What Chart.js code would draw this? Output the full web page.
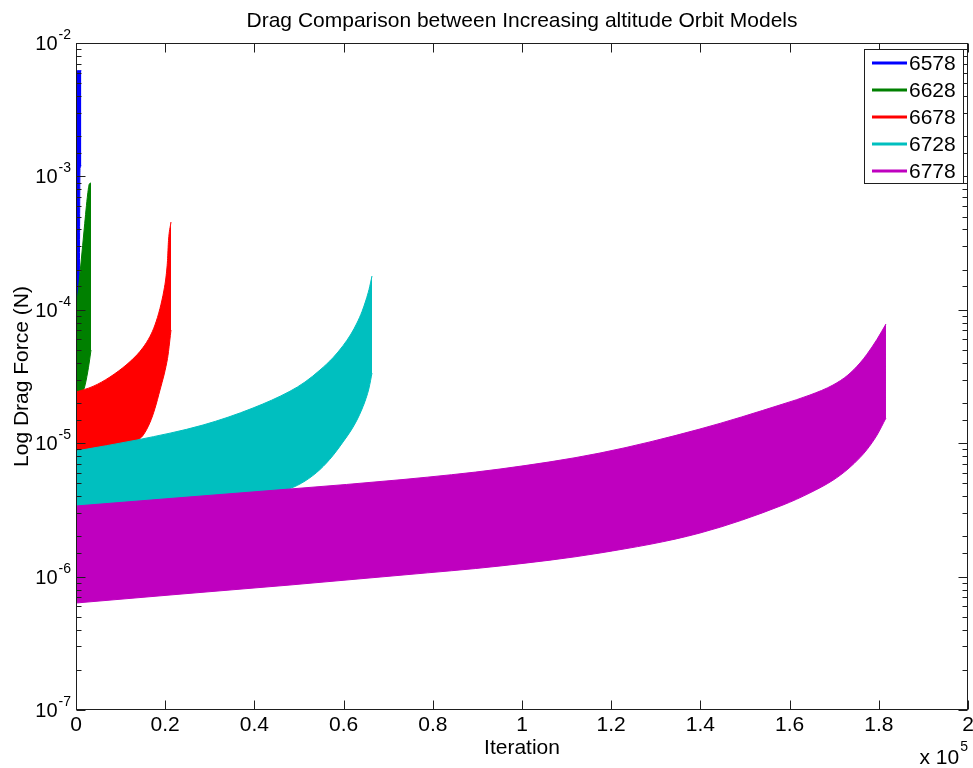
<!DOCTYPE html>
<html>
<head>
<meta charset="utf-8">
<title>Drag Comparison between Increasing altitude Orbit Models</title>
<script src="https://cdn.jsdelivr.net/npm/chart.js@4.4.1/dist/chart.umd.min.js"></script>
<style>
  html, body { margin: 0; padding: 0; background: #ffffff; }
  canvas { display: block; }
</style>
</head>
<body>
<canvas id="drag" width="973" height="768"></canvas>
<script>
// Orbit radius of each run (km) and its line colour
const orbitLabels = ['6578', '6628', '6678', '6728', '6778'];
const orbitColors = ['#0000FF', '#008000', '#FF0000', '#00BFBF', '#BF00BF'];

// Drag force oscillates once per orbit; each run is kept as its upper and
// lower envelope (N) against iteration number.
const iter6578  = [0, 300, 700, 900, 1200];
const upper6578 = [6.0e-3, 6.2e-3, 6.2e-3, 6.2e-3, 6.2e-3];
const lower6578 = [9.5e-5, 9.7e-5, 1.0e-4, 1.15e-3, 1.2e-3];

const iter6628  = [0, 1121, 1861, 2623, 2982, 3363];
const upper6628 = [9.46e-5, 2.243e-4, 4.104e-4, 7.38e-4, 8.77e-4, 8.92e-4];
const lower6628 = [2.298e-5, 2.378e-5, 2.593e-5, 3.417e-5, 4.061e-5, 4.995e-5];

const iter6678  = [0, 3812, 7623, 11435, 13677, 15022, 16592, 17713, 18834, 19731, 20179, 20516, 20740, 21300];
const upper6678 = [2.419e-5, 2.666e-5, 3.135e-5, 3.903e-5, 4.598e-5, 5.207e-5, 6.318e-5, 7.704e-5, 1.024e-4, 1.407e-4, 1.761e-4, 2.342e-4, 3.308e-4, 4.551e-4];
const lower6678 = [8.44e-6, 8.66e-6, 8.89e-6, 9.53e-6, 1.047e-5, 1.144e-5, 1.431e-5, 1.827e-5, 2.505e-5, 3.245e-5, 3.771e-5, 4.314e-5, 4.869e-5, 7.056e-5];

const iter6728  = [0, 13680, 28480, 39690, 47980, 51350, 54710, 57620, 59870, 61660, 63000, 64130, 65020, 65700, 66370];
const upper6728 = [8.74e-6, 1.057e-5, 1.369e-5, 1.836e-5, 2.453e-5, 2.876e-5, 3.537e-5, 4.374e-5, 5.381e-5, 6.585e-5, 7.962e-5, 9.712e-5, 1.184e-4, 1.42e-4, 1.792e-4];
const lower6728 = [3.157e-6, 3.412e-6, 3.752e-6, 4.111e-6, 4.575e-6, 5.206e-6, 6.349e-6, 8.085e-6, 1.021e-5, 1.245e-5, 1.492e-5, 1.805e-5, 2.163e-5, 2.593e-5, 3.358e-5];

const iter6778  = [0, 21080, 47980, 73320, 95070, 117490, 139910, 158520, 164570, 169730, 173090, 175780, 177350, 179600, 181610];
const upper6778 = [3.382e-6, 3.851e-6, 4.536e-6, 5.342e-6, 6.404e-6, 8.44e-6, 1.278e-5, 1.967e-5, 2.298e-5, 2.73e-5, 3.245e-5, 3.992e-5, 4.648e-5, 6.01e-5, 7.826e-5];
const lower6778 = [6.34e-7, 7.28e-7, 8.65e-7, 1.028e-6, 1.201e-6, 1.503e-6, 2.122e-6, 3.441e-6, 4.243e-6, 5.278e-6, 6.404e-6, 7.799e-6, 8.96e-6, 1.151e-5, 1.545e-5];

// Axis tick labels (x in units of 10^5 iterations)
const xTickLabels = ['0', '0.2', '0.4', '0.6', '0.8', '1', '1.2', '1.4', '1.6', '1.8', '2'];
const xTickStep = 20000;

const runs = [
  { iter: iter6578, upper: upper6578, lower: lower6578 },
  { iter: iter6628, upper: upper6628, lower: lower6628 },
  { iter: iter6678, upper: upper6678, lower: lower6678 },
  { iter: iter6728, upper: upper6728, lower: lower6728 },
  { iter: iter6778, upper: upper6778, lower: lower6778 }
];

const FONT = '"Liberation Sans", Arial, Helvetica, sans-serif';

// Each run becomes an upper line filled down to its lower line; later runs
// are painted over earlier ones.
const datasets = [];
runs.forEach((r, i) => {
  const color = orbitColors[i];
  const z = (runs.length - 1 - i) * 2;
  const common = {
    borderColor: color,
    backgroundColor: color,
    borderWidth: 1,
    pointRadius: 0,
    pointHoverRadius: 0,
    cubicInterpolationMode: 'monotone'
  };
  datasets.push(Object.assign({}, common, {
    label: orbitLabels[i],
    data: r.iter.map((x, k) => ({ x: x, y: r.upper[k] })),
    fill: '+1',
    order: z
  }));
  datasets.push(Object.assign({}, common, {
    label: orbitLabels[i] + ' lower',
    data: r.iter.map((x, k) => ({ x: x, y: r.lower[k] })),
    fill: false,
    order: z + 1
  }));
});

// Box, inward ticks, labels, title and legend drawn in MATLAB style
const axesFrame = {
  id: 'axesFrame',
  afterDraw(chart) {
    const { ctx, chartArea: a } = chart;
    const xs = chart.scales.x, ys = chart.scales.y;
    const L = Math.round(a.left) + 0.5, R = Math.round(a.right) - 0.5;
    const T = Math.round(a.top) + 0.5, B = Math.round(a.bottom) - 0.5;
    ctx.save();
    ctx.strokeStyle = '#1e1e1e';
    ctx.lineWidth = 1;
    ctx.strokeRect(L, T, R - L, B - T);

    ctx.beginPath();
    xs.ticks.forEach(t => {
      const px = Math.round(xs.getPixelForValue(t.value)) + 0.5;
      ctx.moveTo(px, B); ctx.lineTo(px, B - 9);
      ctx.moveTo(px, T); ctx.lineTo(px, T + 9);
    });
    ys.ticks.forEach(t => {
      const py = Math.round(ys.getPixelForValue(t.value)) + 0.5;
      const len = t.label ? 9 : 5;
      ctx.moveTo(L, py); ctx.lineTo(L + len, py);
      ctx.moveTo(R, py); ctx.lineTo(R - len, py);
    });
    ctx.stroke();

    ctx.fillStyle = '#000000';
    // x tick labels
    ctx.font = '21px ' + FONT;
    ctx.textAlign = 'center';
    ctx.textBaseline = 'alphabetic';
    xs.ticks.forEach(t => {
      ctx.fillText(t.label, xs.getPixelForValue(t.value), 731);
    });

    // y tick labels as 10 with a raised exponent
    ys.ticks.forEach(t => {
      if (!t.label) return;
      const py = ys.getPixelForValue(t.value);
      ctx.font = '14px ' + FONT;
      const ew = ctx.measureText(t.label).width;
      const ex = 71 - ew;
      ctx.textAlign = 'left';
      ctx.fillText(t.label, ex, py - 4);
      ctx.font = '20px ' + FONT;
      ctx.textAlign = 'right';
      ctx.fillText('10', ex - 1, py + 7);
    });

    // axis titles
    ctx.font = '21px ' + FONT;
    ctx.textAlign = 'center';
    ctx.fillText('Iteration', (a.left + a.right) / 2, 754);
    ctx.save();
    ctx.translate(28, (a.top + a.bottom) / 2);
    ctx.rotate(-Math.PI / 2);
    ctx.fillText('Log Drag Force (N)', 0, 0);
    ctx.restore();

    // axis multiplier
    ctx.font = '14px ' + FONT;
    ctx.textAlign = 'right';
    ctx.fillText('5', 968, 751);
    const w5 = ctx.measureText('5').width;
    ctx.font = '21px ' + FONT;
    ctx.fillText('x 10', 967 - w5, 764);

    // title
    ctx.textAlign = 'center';
    ctx.font = '21px ' + FONT;
    ctx.fillText('Drag Comparison between Increasing altitude Orbit Models', (a.left + a.right) / 2, 27);

    // legend
    const lx = 864.5, ly = 49.5, lw = 99, lh = 134;
    ctx.fillStyle = '#ffffff';
    ctx.fillRect(lx, ly, lw, lh);
    ctx.strokeStyle = '#1e1e1e';
    ctx.strokeRect(lx, ly, lw, lh);
    ctx.font = '21px ' + FONT;
    ctx.textAlign = 'left';
    ctx.textBaseline = 'middle';
    orbitLabels.forEach((lab, i) => {
      const yy = 63 + i * 27;
      ctx.strokeStyle = orbitColors[i];
      ctx.lineWidth = 3;
      ctx.beginPath();
      ctx.moveTo(872, yy); ctx.lineTo(907, yy);
      ctx.stroke();
      ctx.fillStyle = '#000000';
      ctx.fillText(lab, 909, yy + 1);
    });
    ctx.restore();
  }
};

new Chart(document.getElementById('drag'), {
  type: 'line',
  data: { datasets: datasets },
  options: {
    responsive: false,
    animation: false,
    devicePixelRatio: 1,
    events: [],
    layout: { padding: { left: 76, right: 5, top: 43, bottom: 58 } },
    plugins: {
      legend: { display: false },
      title: { display: false },
      tooltip: { enabled: false }
    },
    scales: {
      x: {
        type: 'linear',
        min: 0,
        max: 200000,
        ticks: {
          display: false,
          stepSize: xTickStep,
          autoSkip: false,
          callback: (v, i) => xTickLabels[i]
        },
        grid: { display: false },
        border: { display: false },
        afterFit: s => { s.height = 0; }
      },
      y: {
        type: 'logarithmic',
        min: 1e-7,
        max: 1e-2,
        ticks: {
          display: false,
          autoSkip: false,
          callback: v => {
            const e = Math.log10(v);
            const r = Math.round(e);
            return Math.abs(e - r) < 1e-6 ? String(r) : '';
          }
        },
        grid: { display: false },
        border: { display: false },
        afterFit: s => { s.width = 0; }
      }
    }
  },
  plugins: [axesFrame]
});
</script>
</body>
</html>
